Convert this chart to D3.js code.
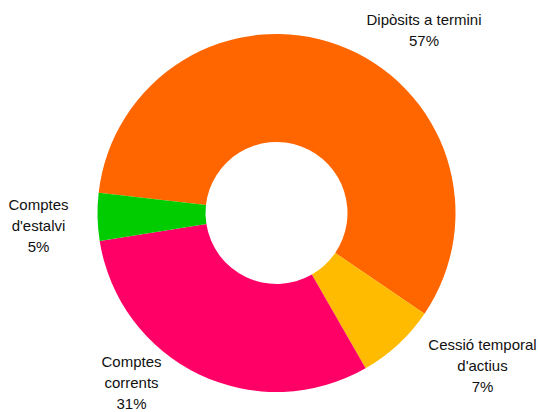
<!DOCTYPE html>
<html>
<head>
<meta charset="utf-8">
<script src="https://cdn.jsdelivr.net/npm/d3@7"></script>
<style>
  html, body { margin: 0; padding: 0; background: #fff; }
  svg { display: block; }
  text { font-family: "Liberation Sans", Arial, sans-serif; font-size: 15px; fill: #111; }
</style>
</head>
<body>
<svg id="chart" width="539" height="412"></svg>
<script>
// Data
const categories = ["Dipòsits a termini", "Cessió temporal d'actius", "Comptes corrents", "Comptes d'estalvi"];
const values = [57.7, 7.2, 30.8, 4.3];
const pctLabels = ["57%", "7%", "31%", "5%"];
const labelLines = [["Dipòsits a termini"], ["Cessió temporal", "d'actius"], ["Comptes", "corrents"], ["Comptes", "d'estalvi"]];
const colors = ["#FF6600", "#FFBB00", "#FF0066", "#00CC00"];

// Layout
const W = 539, H = 412;
const cx = 276.5, cy = 213;
const outerR = 179, innerR = 71;
const startDeg = -83.5;
const labelAnchors = [ // centre x, first baseline y
  [424, 25], [482.5, 350], [131.5, 367], [38.5, 210]
];
const lineH = 21;

const svg = d3.select("#chart");
const g = svg.append("g").attr("transform", `translate(${cx},${cy})`);

const pie = d3.pie().sort(null).value(d => d)
  .startAngle(startDeg * Math.PI / 180)
  .endAngle(startDeg * Math.PI / 180 + 2 * Math.PI);
const arc = d3.arc().innerRadius(innerR).outerRadius(outerR);

g.selectAll("path.slice")
  .data(pie(values))
  .join("path")
  .attr("class", "slice")
  .attr("d", arc)
  .attr("fill", (d, i) => colors[i]);

const labels = svg.selectAll("text.lbl")
  .data(categories)
  .join("text")
  .attr("class", "lbl")
  .attr("text-anchor", "middle")
  .attr("x", (d, i) => labelAnchors[i][0])
  .attr("y", (d, i) => labelAnchors[i][1]);

labels.each(function(d, i) {
  const t = d3.select(this);
  const lines = labelLines[i].concat([pctLabels[i]]);
  lines.forEach((ln, k) => {
    t.append("tspan")
      .attr("x", labelAnchors[i][0])
      .attr("dy", k === 0 ? 0 : lineH)
      .text(ln);
  });
});
</script>
</body>
</html>
